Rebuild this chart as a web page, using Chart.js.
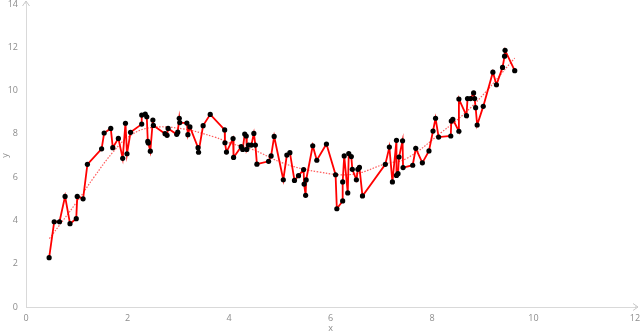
<!DOCTYPE html>
<html>
<head>
<meta charset="utf-8">
<script src="https://cdn.jsdelivr.net/npm/chart.js@4.4.0/dist/chart.umd.min.js"></script>
<style>
  html, body { margin: 0; padding: 0; background: #fff; }
  #wrap { width: 640px; height: 334px; }
</style>
</head>
<body>
<div id="wrap"><canvas id="chart"></canvas></div>
<script>
const xValues = [
  0.456, 0.556, 0.66, 0.77, 0.867, 0.99, 1.01, 1.125, 1.21, 1.49,
  1.54, 1.67, 1.71, 1.82, 1.905, 1.96, 1.99, 2.06, 2.28, 2.28,
  2.35, 2.38, 2.40, 2.41, 2.45, 2.50, 2.51, 2.74, 2.78, 2.80,
  2.97, 2.99, 3.02, 3.03, 3.17, 3.19, 3.23, 3.39, 3.40, 3.49,
  3.63, 3.915, 3.92, 3.95, 4.08, 4.09, 4.24, 4.27, 4.31, 4.34,
  4.35, 4.385, 4.44, 4.49, 4.52, 4.55, 4.78, 4.83, 4.89, 5.07,
  5.14, 5.2, 5.29, 5.37, 5.47, 5.48, 5.51, 5.52, 5.65, 5.73,
  5.92, 6.1, 6.125, 6.24, 6.24, 6.27, 6.34, 6.36, 6.41, 6.43,
  6.51, 6.54, 6.57, 6.63, 7.08, 7.16, 7.22, 7.30, 7.30, 7.33,
  7.35, 7.42, 7.43, 7.62, 7.68, 7.81, 7.94, 8.02, 8.07, 8.13,
  8.37, 8.38, 8.41, 8.53, 8.53, 8.68, 8.70, 8.76, 8.82, 8.84,
  8.86, 8.89, 9.01, 9.2, 9.27, 9.39, 9.43, 9.44, 9.63
];
const yValues = [
  2.28, 3.94, 3.94, 5.11, 3.85, 4.08, 5.11, 5.0, 6.59, 7.31,
  8.04, 8.25, 7.36, 7.79, 6.87, 8.49, 7.08, 8.07, 8.45, 8.87,
  8.91, 8.79, 7.65, 7.58, 7.2, 8.64, 8.39, 8.01, 7.93, 8.25,
  7.98, 8.08, 8.72, 8.52, 8.5, 7.96, 8.32, 7.36, 7.15, 8.38,
  8.9, 8.18, 7.59, 7.16, 7.78, 6.91, 7.41, 7.28, 7.99, 7.9,
  7.28, 7.48, 7.48, 8.02, 7.48, 6.6, 6.73, 6.98, 7.88, 5.88,
  7.02, 7.13, 5.85, 6.07, 6.35, 5.68, 5.16, 5.87, 7.45, 6.78,
  7.53, 6.11, 4.54, 4.9, 5.78, 6.98, 5.27, 7.09, 6.95, 6.36,
  5.88, 6.36, 6.45, 5.13, 6.59, 7.39, 5.78, 7.7, 6.08, 6.16,
  6.93, 7.68, 6.44, 6.55, 7.33, 6.66, 7.21, 8.13, 8.72, 7.85,
  7.9, 8.59, 8.67, 8.12, 9.61, 8.84, 9.63, 9.63, 9.89, 9.63,
  9.21, 8.41, 9.27, 10.85, 10.27, 11.07, 11.59, 11.86, 10.92
];

// dotted trend line
const trendX = [0.46, 1.0, 1.34, 1.73, 2.06, 2.46, 3.06, 3.72, 4.05, 4.44, 5.1, 5.77, 6.43, 7.09, 7.49, 8.15, 8.81, 9.63];
const trendY = [3.16, 4.85, 6.0, 7.2, 7.93, 8.29, 8.24, 7.85, 7.55, 7.3, 6.62, 6.24, 6.13, 6.62, 6.85, 8.0, 9.32, 11.5];

const xTicks = [0, 2, 4, 6, 8, 10, 12];
const yTicks = [0, 2, 4, 6, 8, 10, 12, 14];

const AXIS_COLOR = "#d9d9d9";
const TICK_COLOR = "#8c8c8c";
const FONT = { family: "'Open Sans', 'Liberation Sans', sans-serif", size: 9 };

const points = xValues.map((x, i) => ({ x: x, y: yValues[i] }));
const trend = trendX.map((x, i) => ({ x: x, y: trendY[i] }));

// little open arrowheads at the end of both axes
const axisArrows = {
  id: "axisArrows",
  afterDraw(chart) {
    const { ctx, chartArea } = chart;
    ctx.save();
    ctx.strokeStyle = "#c8c8c8";
    ctx.lineWidth = 1;
    ctx.beginPath();
    ctx.moveTo(chartArea.left, chartArea.top);
    ctx.lineTo(chartArea.left, chartArea.top - 3);
    ctx.moveTo(chartArea.left - 3.5, chartArea.top + 2);
    ctx.lineTo(chartArea.left, chartArea.top - 3);
    ctx.lineTo(chartArea.left + 3.5, chartArea.top + 2);
    ctx.moveTo(chartArea.right, chartArea.bottom);
    ctx.lineTo(chartArea.right + 3, chartArea.bottom);
    ctx.moveTo(chartArea.right - 2, chartArea.bottom - 3.5);
    ctx.lineTo(chartArea.right + 3, chartArea.bottom);
    ctx.lineTo(chartArea.right - 2, chartArea.bottom + 3.5);
    ctx.stroke();
    ctx.restore();
  }
};

const ctx = document.getElementById("chart").getContext("2d");
new Chart(ctx, {
  type: "scatter",
  data: {
    datasets: [
      {
        data: points,
        showLine: true,
        borderColor: "#ff0000",
        borderWidth: 1.8,
        pointRadius: 2.6,
        pointBackgroundColor: "#000000",
        pointBorderColor: "#000000",
        pointBorderWidth: 0,
        order: 1
      },
      {
        data: trend,
        showLine: true,
        borderColor: "rgba(255, 50, 50, 0.8)",
        borderWidth: 1.2,
        borderDash: [1.5, 1.5],
        pointRadius: 0,
        tension: 0.4,
        order: 2
      }
    ]
  },
  options: {
    responsive: true,
    maintainAspectRatio: false,
    animation: false,
    layout: { padding: { top: 0, right: 5, left: 0, bottom: 0 } },
    plugins: {
      legend: { display: false },
      tooltip: { enabled: false }
    },
    scales: {
      x: {
        type: "linear",
        min: 0,
        max: 12,
        afterBuildTicks: (scale) => { scale.ticks = xTicks.map(v => ({ value: v })); },
        afterFit: (scale) => {
          scale.height = 27;
          scale.paddingLeft = 0;
          scale.paddingRight = 0;
        },
        grid: { display: false, drawTicks: false },
        border: { display: true, color: AXIS_COLOR, width: 1 },
        ticks: { color: TICK_COLOR, font: FONT, padding: 6 },
        title: { display: true, text: "x", color: TICK_COLOR, font: FONT, padding: 0 }
      },
      y: {
        type: "linear",
        min: 0,
        max: 14,
        afterBuildTicks: (scale) => { scale.ticks = yTicks.map(v => ({ value: v })); },
        afterFit: (scale) => {
          scale.width = 26;
          scale.paddingTop = 3.6;
          scale.paddingBottom = 0;
        },
        grid: { display: false, drawTicks: false },
        border: { display: true, color: AXIS_COLOR, width: 1 },
        ticks: { color: TICK_COLOR, font: FONT, padding: 8 },
        title: { display: true, text: "y", color: TICK_COLOR, font: FONT, padding: 0 }
      }
    }
  },
  plugins: [axisArrows]
});
</script>
</body>
</html>
